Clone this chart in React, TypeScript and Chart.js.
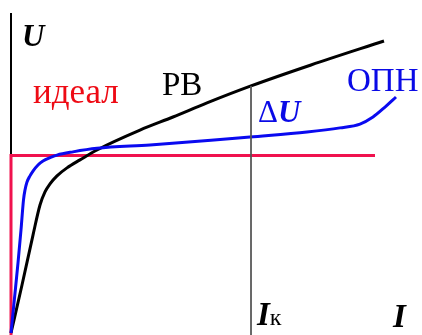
import React, { useEffect, useRef } from "react";
import { Chart, registerables } from "chart.js";

Chart.register(...registerables);

// Relative units: current I along x, voltage U along y.
const rvI = [0, 2.75, 5.5, 7.25, 8.5, 9.75, 11.5, 14, 17.25, 21.5, 32.25, 40.5, 49, 60, 75, 93.25];
const rvU = [0, 15, 30.6, 40, 44.1, 46.6, 49.1, 51.6, 54.1, 57.2, 63.4, 67.5, 71.9, 77.2, 83.75, 91.25];

const opnI = [
  0, 0.875, 1.75, 2.5, 3.125, 3.5, 4, 4.75, 5.5, 6.75, 8, 9.75, 11.5, 15.5, 21.5, 34.75, 50, 59.75, 74,
  82.25, 87.25, 90.5, 93.5, 96.25,
];
const opnU = [
  0, 10.9, 21.9, 32.2, 41.6, 44.7, 47.2, 49.1, 50.6, 52.5, 53.75, 54.8, 55.6, 56.6, 57.7, 58.75, 60.2, 61.25,
  62.8, 64.1, 65.3, 67.5, 70.6, 73.75,
];

const idealI = [0, 0, 91];
const idealU = [-1, 55.5, 55.5];

const ikValue = 60;
const axisTopU = 100;

const I_MIN = -2.75;
const I_MAX = 102.75;
const U_MIN = -0.625;
const U_MAX = 104.06;

const SERIF = '"Liberation Serif", "Times New Roman", serif';

type Part = { text: string; font: string };
type Label = { x: number; y: number; color: string; parts: Part[] };

const labels: Label[] = [
  { x: 2.75, y: 89.7, color: "#000000", parts: [{ text: "U", font: `italic bold 31px ${SERIF}` }] },
  { x: 5.5, y: 71.9, color: "#EE0A14", parts: [{ text: "идеал", font: `35px ${SERIF}` }] },
  { x: 37.75, y: 74.4, color: "#000000", parts: [{ text: "РВ", font: `33px ${SERIF}` }] },
  { x: 84, y: 75.6, color: "#0A0AE6", parts: [{ text: "ОПН", font: `33px ${SERIF}` }] },
  {
    x: 61.75,
    y: 65.9,
    color: "#0A0AE6",
    parts: [
      { text: "Δ", font: `31px ${SERIF}` },
      { text: "U", font: `italic bold 31px ${SERIF}` },
    ],
  },
  {
    x: 61.5,
    y: 2.5,
    color: "#000000",
    parts: [
      { text: "I", font: `italic bold 33px ${SERIF}` },
      { text: "к", font: `24px ${SERIF}` },
    ],
  },
  { x: 95.5, y: 1.9, color: "#000000", parts: [{ text: "I", font: `italic bold 33px ${SERIF}` }] },
];

const zip = (xs: number[], ys: number[]) => xs.map((x, i) => ({ x, y: ys[i] }));

const axisAndLabels = {
  id: "axisAndLabels",
  beforeDatasetsDraw(chart: any) {
    const { ctx, scales } = chart;
    const xs = scales.x;
    const ys = scales.y;
    ctx.save();
    ctx.strokeStyle = "#000000";
    ctx.lineWidth = 2;
    ctx.beginPath();
    const ax = xs.getPixelForValue(0);
    ctx.moveTo(ax, ys.getPixelForValue(axisTopU));
    ctx.lineTo(ax, ys.getPixelForValue(U_MIN));
    ctx.stroke();
    ctx.restore();
  },
  afterDatasetsDraw(chart: any) {
    const { ctx, scales } = chart;
    ctx.save();
    ctx.textAlign = "left";
    ctx.textBaseline = "alphabetic";
    for (const lb of labels) {
      let px = scales.x.getPixelForValue(lb.x);
      const py = scales.y.getPixelForValue(lb.y);
      ctx.fillStyle = lb.color;
      for (const p of lb.parts) {
        ctx.font = p.font;
        ctx.fillText(p.text, px, py);
        px += ctx.measureText(p.text).width;
      }
    }
    ctx.restore();
  },
};

export default function App() {
  const ref = useRef<HTMLCanvasElement | null>(null);

  useEffect(() => {
    if (!ref.current) return;
    const ikTop = rvU[rvI.indexOf(ikValue)];
    const chart = new Chart(ref.current, {
      type: "scatter",
      data: {
        datasets: [
          {
            label: "Iк",
            data: [
              { x: ikValue, y: ikTop },
              { x: ikValue, y: U_MIN },
            ],
            showLine: true,
            borderColor: "#555555",
            borderWidth: 1,
            pointRadius: 0,
            tension: 0,
          },
          {
            label: "ОПН",
            data: zip(opnI, opnU),
            showLine: true,
            borderColor: "#0A0AF0",
            borderWidth: 3,
            pointRadius: 0,
            cubicInterpolationMode: "monotone",
          },
          {
            label: "РВ",
            data: zip(rvI, rvU),
            showLine: true,
            borderColor: "#000000",
            borderWidth: 3,
            pointRadius: 0,
            cubicInterpolationMode: "monotone",
          },
          {
            label: "идеал",
            data: zip(idealI, idealU),
            showLine: true,
            borderColor: "#F0124E",
            borderWidth: 3,
            pointRadius: 0,
            tension: 0,
          },
        ],
      },
      options: {
        animation: false,
        responsive: false,
        layout: { padding: 0 },
        plugins: {
          legend: { display: false },
          tooltip: { enabled: false },
        },
        scales: {
          x: { type: "linear", display: false, min: I_MIN, max: I_MAX },
          y: { type: "linear", display: false, min: U_MIN, max: U_MAX },
        },
      },
      plugins: [axisAndLabels],
    } as any);
    return () => chart.destroy();
  }, []);

  return (
    <div style={{ position: "fixed", left: 0, top: 0, width: 422, height: 335, background: "#ffffff" }}>
      <canvas ref={ref} width={422} height={335} style={{ display: "block" }} />
    </div>
  );
}
